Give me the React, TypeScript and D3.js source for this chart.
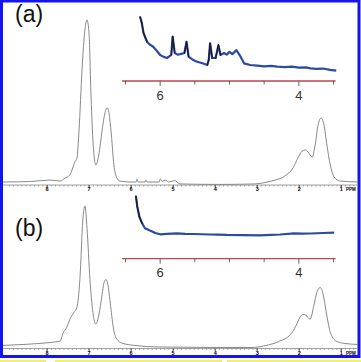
import React from 'react';
import * as d3 from 'd3';

const W = 361;
const H = 362;

// main spectrum (a): [ppm, intensity %]
const specA: [number, number][] = [
  [9.05, 0], [8.4, 0.3], [7.93, 1.2], [7.69, 0.6], [7.57, 2.5], [7.46, 4.3], [7.34, 12.3],
  [7.29, 14.8], [7.24, 32], [7.17, 69], [7.1, 94], [7.05, 100], [7.0, 91], [6.96, 57],
  [6.91, 26], [6.84, 10.5], [6.77, 16.7], [6.69, 32], [6.62, 43], [6.57, 45.7], [6.53, 43],
  [6.48, 32], [6.41, 10.5], [6.34, 2.5], [6.27, 0.6], [6.03, 0], [5.88, 0], [5.86, 1.9],
  [5.83, 0], [5.67, 0], [5.65, 1.2], [5.62, 0], [5.33, 0], [5.31, 1.9], [5.26, 0.4],
  [5.19, 1.2], [5.1, 0], [4.96, 0.9], [4.84, -1.2], [3.89, -1.5], [3.05, -1.2], [2.81, -0.3],
  [2.57, 1.2], [2.34, 3.7], [2.15, 8.6], [2.03, 14.8], [1.93, 19.1], [1.86, 19.8], [1.79, 18.5],
  [1.69, 15.4], [1.62, 22.8], [1.55, 35.2], [1.48, 39.5], [1.41, 35.2], [1.34, 22.8],
  [1.26, 10.5], [1.17, 3.1], [1.03, 0.6], [0.6, 0],
];

// main spectrum (b)
const specB: [number, number][] = [
  [9.05, 0.4], [8.5, 1.2], [7.93, 2.5], [7.69, 3.5], [7.62, 9.2], [7.53, 13.5], [7.46, 19],
  [7.36, 24], [7.29, 27.7], [7.22, 47.5], [7.15, 90], [7.1, 100], [7.05, 84], [6.98, 47.5],
  [6.91, 24], [6.84, 15.6], [6.77, 22], [6.69, 36.9], [6.65, 44.7], [6.6, 47.5], [6.55, 43.3],
  [6.48, 26.2], [6.41, 10.6], [6.34, 5], [6.22, 2.1], [5.91, 0.4], [5.31, -0.7], [3.17, -1.1],
  [2.74, 0.7], [2.46, 3.5], [2.22, 7.8], [2.08, 14.2], [1.98, 20.6], [1.91, 22.7], [1.84, 22],
  [1.74, 19.1], [1.65, 29], [1.58, 38.3], [1.5, 41.8], [1.43, 36.9], [1.36, 24.8], [1.26, 9.9],
  [1.12, 3.5], [0.91, 1.8], [0.6, 1.1],
];

// expanded region insets (6.5 - 3.5 ppm)
const insetA: [number, number][] = [
  [6.29, 98.8], [6.265, 87.5], [6.24, 69.6], [6.19, 54], [6.15, 49], [6.1, 45.2], [6.05, 38],
  [6.0, 30.4], [5.95, 27], [5.9, 25], [5.84, 30.4], [5.82, 63], [5.79, 34], [5.75, 31],
  [5.71, 32], [5.65, 34], [5.62, 54], [5.59, 27.3], [5.53, 22], [5.47, 18.4], [5.4, 16],
  [5.32, 12.5], [5.3, 21.4], [5.28, 51], [5.25, 25], [5.2, 25], [5.16, 48], [5.13, 30.4],
  [5.08, 34], [5.04, 31], [5.0, 36], [4.96, 32], [4.9, 39], [4.84, 27.3], [4.79, 15.5],
  [4.7, 12.5], [4.6, 11.5], [4.5, 10.2], [4.4, 11], [4.31, 9.5], [4.2, 8.8], [4.1, 9.6],
  [4.0, 7.8], [3.9, 8.2], [3.83, 6.6], [3.75, 5.5], [3.65, 6.2], [3.55, 3.8], [3.46, 2.3],
];

const insetB: [number, number][] = [
  [6.35, 95.9], [6.33, 76.8], [6.3, 58.9], [6.26, 47.1], [6.22, 38.2], [6.14, 33.9],
  [6.07, 29.8], [6.0, 27.5], [5.9, 28.4], [5.76, 29.3], [5.64, 28.2], [5.52, 28], [5.4, 27.6],
  [5.28, 27.1], [5.16, 26.8], [5.04, 26.3], [4.8, 26], [4.56, 25.7], [4.4, 26.4], [4.27, 27.1],
  [4.07, 29.3], [3.95, 28.6], [3.83, 28.9], [3.65, 29.8], [3.49, 30.4],
];

const mainTicks = [8, 7, 6, 5, 4, 3, 2, 1];
const insetTicks = [6.5, 6, 5.5, 5, 4.5, 4, 3.5];
const insetLabels = [6, 4];
const panelLabels = ['(a)', '(b)'];

const FONT = 'Liberation Sans, Arial, sans-serif';
const BLUE = '#2d4aa2';
const RED = '#b8464e';

const xMain = d3.scaleLinear().domain([9.05, 0.6]).range([3, 358]);
const xInset = d3.scaleLinear().domain([6.5, 3.5]).range([125.5, 333.5]);

type Panel = {
  label: string;
  labelY: number;
  spec: [number, number][];
  y: d3.ScaleLinear<number, number>;
  axisY: number;
  inset: [number, number][];
  yIn: d3.ScaleLinear<number, number>;
  inAxisY: number;
};

const panels: Panel[] = [
  {
    label: panelLabels[0], labelY: 22, spec: specA,
    y: d3.scaleLinear().domain([0, 100]).range([182, 20]), axisY: 185,
    inset: insetA, yIn: d3.scaleLinear().domain([0, 100]).range([72, 16]), inAxisY: 81,
  },
  {
    label: panelLabels[1], labelY: 236, spec: specB,
    y: d3.scaleLinear().domain([0, 100]).range([346, 206]), axisY: 348.5,
    inset: insetB, yIn: d3.scaleLinear().domain([0, 100]).range([249.7, 193.7]), inAxisY: 258.7,
  },
];

const MainAxis: React.FC<{ y: number }> = ({ y }) => {
  const minor = xMain.ticks(80).filter(t => t > 0.65 && t < 9);
  return (
    <g>
      <line x1={3} x2={358} y1={y} y2={y} stroke="#8a8a8a" strokeWidth={0.8} />
      {minor.map(t => (
        <line key={t} x1={xMain(t)} x2={xMain(t)} y1={y} y2={y + 1.5} stroke="#777" strokeWidth={0.6} />
      ))}
      {mainTicks.map(t => (
        <g key={t}>
          <line x1={xMain(t)} x2={xMain(t)} y1={y} y2={y + 2.5} stroke="#333" strokeWidth={0.9} />
          <text x={xMain(t)} y={y + 6.3} fontSize={5.5} fontWeight="bold" textAnchor="middle"
            fontFamily={FONT} fill="#000">{t}</text>
        </g>
      ))}
      <text x={351} y={y + 6.3} fontSize={4.5} fontWeight="bold" textAnchor="middle" fontFamily={FONT} fill="#000">PPM</text>
    </g>
  );
};

const Inset: React.FC<{ p: Panel }> = ({ p }) => {
  const pts = p.inset.map(d => [xInset(d[0]), p.yIn(d[1])] as [number, number]);
  const segs = pts.slice(1).map((q, i) => {
    const a = pts[i];
    const steep = Math.abs((q[1] - a[1]) / (q[0] - a[0] || 1)) > 2.2;
    return { a, q, steep };
  });
  const line = d3.line();
  return (
    <g>
      <path d={line(pts) || ''} fill="none" stroke={BLUE} strokeWidth={2.2} strokeLinejoin="round" />
      {segs.filter(s => s.steep).map((s, i) => (
        <line key={i} x1={s.a[0]} y1={s.a[1]} x2={s.q[0]} y2={s.q[1]} stroke="#1a1a2a" strokeWidth={1.3} strokeLinecap="round" />
      ))}
      <line x1={xInset(6.55)} x2={xInset(3.47)} y1={p.inAxisY} y2={p.inAxisY} stroke={RED} strokeWidth={1.3} />
      {insetTicks.map(t => (
        <line key={t} x1={xInset(t)} x2={xInset(t)} y1={p.inAxisY} y2={p.inAxisY + (insetLabels.includes(t) ? 5 : 3.5)}
          stroke="#555" strokeWidth={0.9} />
      ))}
      {insetLabels.map(t => (
        <text key={t} x={xInset(t)} y={p.inAxisY + 18.5} fontSize={13} textAnchor="middle" fontFamily={FONT} fill="#333">{t}</text>
      ))}
    </g>
  );
};

export default function App() {
  const line = d3.line<[number, number]>().curve(d3.curveMonotoneX);
  return (
    <svg width={W} height={H} style={{ position: 'absolute', left: 0, top: 0, background: '#fff' }}>
      <rect x={0} y={0} width={W} height={H} fill="#fff" />
      {/* frame */}
      <rect x={1.5} y={1} width={357.5} height={355.5} fill="none" stroke="#1414ee" strokeWidth={3} />
      <rect x={0} y={360} width={46} height={2} fill="#f4f060" />
      <rect x={55} y={360} width={167} height={2} fill="#f4f060" />
      <rect x={227} y={360} width={134} height={2} fill="#f4f060" />
      {panels.map(p => (
        <g key={p.label}>
          <path d={line.x(d => xMain(d[0])).y(d => p.y(d[1]))(p.spec) || ''} fill="none" stroke="#7a7a7a" strokeWidth={0.9} />
          <MainAxis y={p.axisY} />
          <Inset p={p} />
          <text x={15} y={p.labelY} fontSize={23} fontFamily={FONT} fill="#111">{p.label}</text>
        </g>
      ))}
    </svg>
  );
}
